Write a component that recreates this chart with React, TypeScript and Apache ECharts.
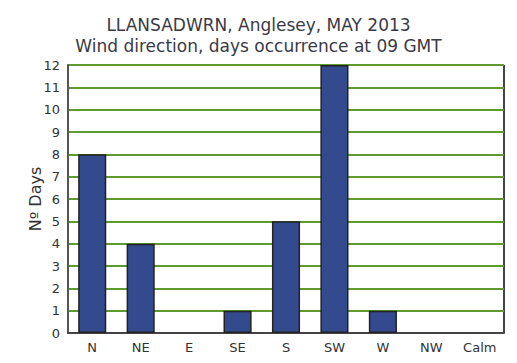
import React, { useEffect, useRef } from "react";
import * as echarts from "echarts";

const categories = ["N", "NE", "E", "SE", "S", "SW", "W", "NW", "Calm"];
const days = [8, 4, 0, 1, 5, 12, 1, 0, 0];
const titleLines = ["LLANSADWRN, Anglesey, MAY 2013", "Wind direction, days occurrence at 09 GMT"];

export default function App() {
  const ref = useRef<HTMLDivElement>(null);
  useEffect(() => {
    const chart = echarts.init(ref.current!, null, { renderer: "svg" });
    chart.setOption({
      animation: false,
      backgroundColor: "#ffffff",
      textStyle: { fontFamily: "DejaVu Sans" },
      title: {
        text: titleLines.join("\n"),
        left: "center",
        top: 9,
        textStyle: { fontSize: 17, fontWeight: "normal", color: "#3a3a45", lineHeight: 21, fontFamily: "DejaVu Sans" },
      },
      grid: { left: 68, right: 13, top: 65, bottom: 30, containLabel: false },
      xAxis: {
        type: "category",
        data: categories,
        axisLine: { lineStyle: { color: "#444", width: 2 } },
        axisTick: { show: false },
        axisLabel: { color: "#333", fontSize: 13, margin: 8 },
        splitLine: { show: false },
      },
      yAxis: {
        type: "value",
        min: 0,
        max: 12,
        interval: 1,
        name: "Nº Days",
        nameLocation: "middle",
        nameGap: 25,
        nameMoveOverlap: false,
        nameTextStyle: { fontSize: 16, color: "#333" },
        axisLine: { show: true, lineStyle: { color: "#555", width: 2 } },
        axisTick: { show: false },
        axisLabel: { color: "#333", fontSize: 13, margin: 8 },
        splitLine: { lineStyle: { color: "#5e9a2e", width: 2 } },
      },
      graphic: [
        {
          type: "line",
          shape: { x1: 504, y1: 65, x2: 504, y2: 333 },
          style: { stroke: "#444", lineWidth: 2 },
        },
      ],
      series: [
        {
          type: "bar",
          data: days.map((v) => (v === 0 ? "-" : v)),
          barWidth: "58%",
          itemStyle: { color: "#344a8e", borderColor: "#222", borderWidth: 1.5 },
        },
      ],
    });
    return () => chart.dispose();
  }, []);
  return <div ref={ref} style={{ width: 517, height: 363, position: "absolute", left: 0, top: 0 }} />;
}
